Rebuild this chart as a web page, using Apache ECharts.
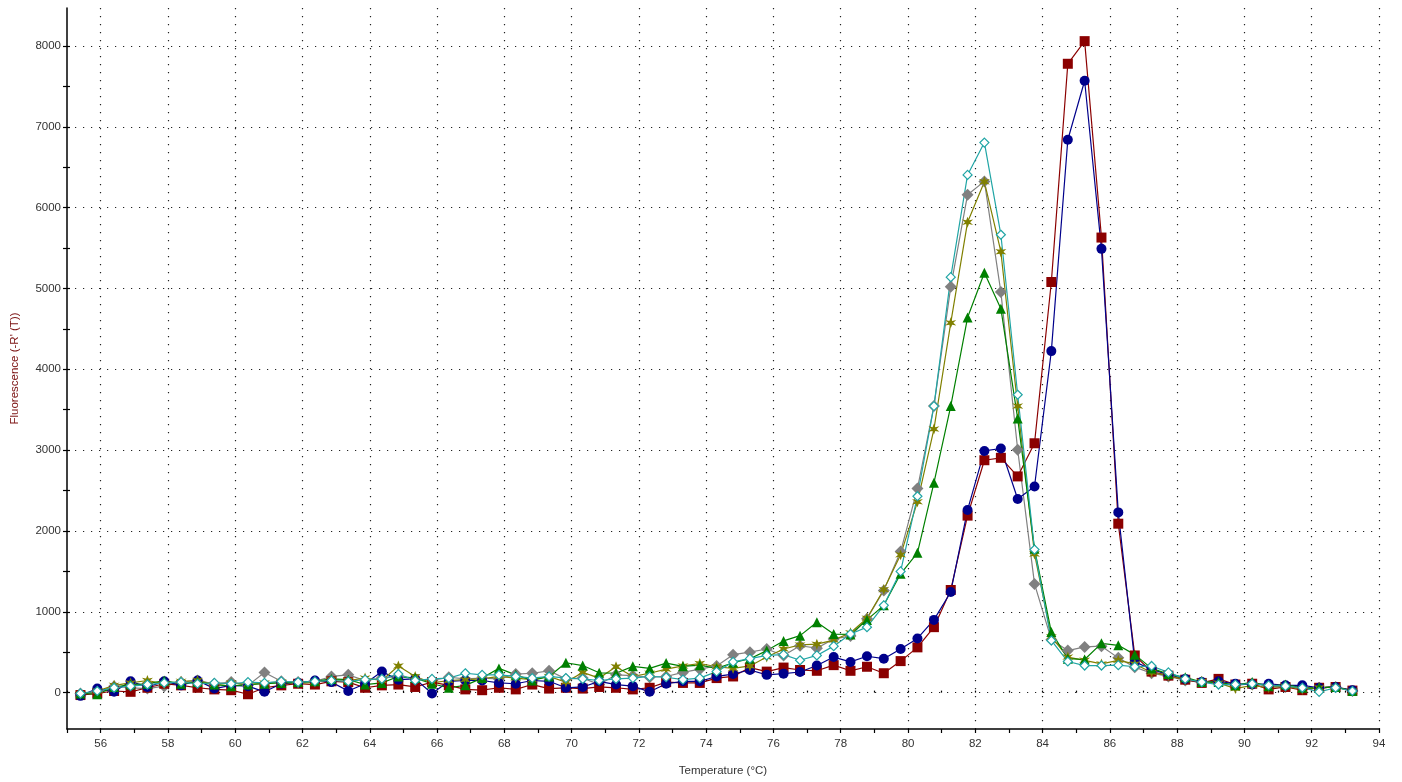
<!DOCTYPE html>
<html>
<head>
<meta charset="utf-8">
<script src="https://cdn.jsdelivr.net/npm/echarts@6/dist/echarts.min.js"></script>
<style>
html,body{margin:0;padding:0;background:#fff;}
#chart{width:1402px;height:782px;}
</style>
</head>
<body>
<div id="chart"></div>
<script>
const temperatures = [55.40,55.90,56.40,56.89,57.39,57.89,58.39,58.88,59.38,59.88,60.38,60.87,61.37,61.87,62.37,62.86,63.36,63.86,64.36,64.85,65.35,65.85,66.35,66.84,67.34,67.84,68.34,68.83,69.33,69.83,70.33,70.82,71.32,71.82,72.32,72.81,73.31,73.81,74.31,74.80,75.30,75.80,76.30,76.79,77.29,77.79,78.29,78.78,79.28,79.78,80.28,80.77,81.27,81.77,82.27,82.76,83.26,83.76,84.26,84.75,85.25,85.75,86.25,86.74,87.24,87.74,88.24,88.73,89.23,89.73,90.23,90.72,91.22,91.72,92.22,92.71,93.21];

const redValues = [-30,-10,20,10,60,110,90,60,40,30,-20,60,90,110,100,140,130,60,90,100,70,130,90,40,30,60,40,100,50,60,50,70,60,40,60,130,120,120,180,200,310,260,310,280,270,340,270,320,240,390,560,810,1270,2190,2875,2905,2675,3085,5080,7780,8060,5630,2090,460,260,210,160,120,170,100,110,40,70,30,60,70,25];
const blueValues = [-40,50,10,140,70,140,90,150,50,90,80,10,110,120,150,130,20,110,260,160,170,-10,140,150,150,120,110,150,140,60,70,140,100,80,10,110,140,140,200,230,280,220,235,255,335,440,380,450,420,540,670,900,1245,2260,2990,3020,2395,2550,4225,6840,7570,5490,2230,380,290,220,170,130,140,110,100,110,90,90,60,70,30];
const grayValues = [-10,10,80,60,50,80,130,150,110,130,90,250,140,130,140,200,220,150,180,200,170,150,190,170,180,170,230,240,270,170,180,100,220,210,190,200,250,290,330,470,500,540,460,580,550,665,700,915,1265,1745,2525,3545,5020,6160,6325,4955,3005,1345,655,520,565,575,430,315,240,200,150,130,120,90,110,80,70,60,60,70,20];
const oliveValues = [-20,20,90,120,150,110,140,150,100,120,100,120,130,110,130,160,150,180,150,330,200,120,150,160,170,200,180,160,200,130,250,180,320,200,240,290,330,360,320,300,330,440,540,590,600,650,740,920,1275,1705,2360,3260,4575,5820,6320,5455,3545,1715,690,440,400,355,400,355,250,210,160,140,120,50,90,60,80,40,60,70,20];
const greenValues = [-10,-20,70,100,110,150,110,130,100,80,100,110,120,130,140,170,160,100,120,200,180,110,60,90,180,300,220,150,200,370,335,245,240,325,300,365,325,340,300,370,420,520,640,705,870,725,720,900,1080,1470,1730,2595,3545,4640,5195,4750,3390,1780,750,420,410,610,585,470,300,230,190,130,130,90,130,80,100,60,60,70,20];
const cyanValues = [-10,20,60,80,100,120,130,110,120,110,130,120,140,130,140,150,140,160,170,230,150,170,180,240,220,220,200,180,200,180,170,150,170,180,200,190,160,180,260,380,420,460,470,400,460,575,725,810,1080,1500,2430,3545,5140,6405,6805,5665,3685,1770,645,385,335,335,340,320,330,250,170,130,100,100,110,90,80,60,10,60,20];

const xTickLabels = [56,58,60,62,64,66,68,70,72,74,76,78,80,82,84,86,88,90,92,94];
const yTickLabels = [0,1000,2000,3000,4000,5000,6000,7000,8000];
const yTickMarks = [0,500,1000,1500,2000,2500,3000,3500,4000,4500,5000,5500,6000,6500,7000,7500,8000];

function pairs(vals){ return vals.map((v,i)=>[temperatures[i], v]); }

const starPath = 'path://M0,-10 L2.2,-3.5 L8.7,-5 L4,0 L8.7,5 L2.2,3.5 L0,10 L-2.2,3.5 L-8.7,5 L-4,0 L-8.7,-5 L-2.2,-3.5 Z';

const seriesDefs = [
  {name:'gray', data: grayValues, color:'#808080', symbol:'diamond', size:12},
  {name:'red', data: redValues, color:'#8B0000', symbol:'rect', size:10},
  {name:'blue', data: blueValues, color:'#00008B', symbol:'circle', size:10},
  {name:'olive', data: oliveValues, color:'#808000', symbol:starPath, size:11},
  {name:'green', data: greenValues, color:'#008000', symbol:'triangle', size:10},
  {name:'cyan', data: cyanValues, color:'#20A5A5', symbol:'diamond', size:9, hollow:true}
];

const chart = echarts.init(document.getElementById('chart'), null, {renderer:'canvas'});
const font = 'Liberation Sans, Arial, sans-serif';

const option = {
  animation: false,
  backgroundColor: '#fff',
  grid: {left: 67, right: 23, top: 8, bottom: 52, containLabel: false},
  xAxis: [{
    type: 'value', min: 55, max: 94, interval: 1,
    name: 'Temperature (\u00b0C)', nameLocation: 'middle', nameGap: 36,
    nameTextStyle: {color: '#333', fontSize: 11.5, fontFamily: font},
    axisLine: {show: true, onZero: false, lineStyle: {color: '#000', width: 1.5}},
    axisTick: {show: true, length: 4, lineStyle: {color: '#000', width: 1.2}},
    axisLabel: {color: '#333', fontSize: 11.5, fontFamily: font, margin: 9,
      formatter: v => xTickLabels.indexOf(v) >= 0 ? String(v) : ''},
    splitLine: {show: true, lineStyle: {color: ['rgba(0,0,0,0)','#222'], type: [1.2, 6.8], width: 1.2}}
  },{
    type: 'value', min: 55, max: 94, interval: 1, position: 'bottom',
    axisLine: {show: false}, axisLabel: {show: false}, splitLine: {show: false},
    axisTick: {show: true, inside: true, length: 2, lineStyle: {color: '#000', width: 1.2}}
  }],
  yAxis: [{
    type: 'value', min: -450, max: 8470,
    name: "Fluorescence (-R' (T))", nameLocation: 'middle', nameGap: 46,
    nameTextStyle: {color: '#7a1010', fontSize: 11.5, fontFamily: font},
    axisLine: {show: true, onZero: false, lineStyle: {color: '#000', width: 1.5}},
    axisTick: {show: true, length: 4, customValues: yTickMarks, lineStyle: {color: '#000', width: 1.2}},
    axisLabel: {color: '#333', fontSize: 11.5, fontFamily: font, margin: 6, customValues: yTickLabels,
      formatter: v => String(v)},
    splitLine: {show: true, lineStyle: {color: ['#222','rgba(0,0,0,0)'], type: [1.2, 6.8], width: 1.2}}
  },{
    type: 'value', min: -450, max: 8470, position: 'left',
    axisLine: {show: false}, axisLabel: {show: false}, splitLine: {show: false},
    axisTick: {show: true, inside: true, length: 3, customValues: yTickMarks, lineStyle: {color: '#000', width: 1.2}}
  }],
  series: seriesDefs.map(s => ({
    type: 'line', name: s.name, data: pairs(s.data),
    xAxisIndex: 0, yAxisIndex: 0,
    symbol: s.symbol, symbolSize: s.size, showSymbol: true,
    lineStyle: {color: s.color, width: 1.2},
    itemStyle: s.hollow ? {color: '#fff', borderColor: s.color, borderWidth: 1.2} : {color: s.color, borderWidth: 0},
    emphasis: {disabled: true}
  }))
};
chart.setOption(option);
</script>
</body>
</html>
